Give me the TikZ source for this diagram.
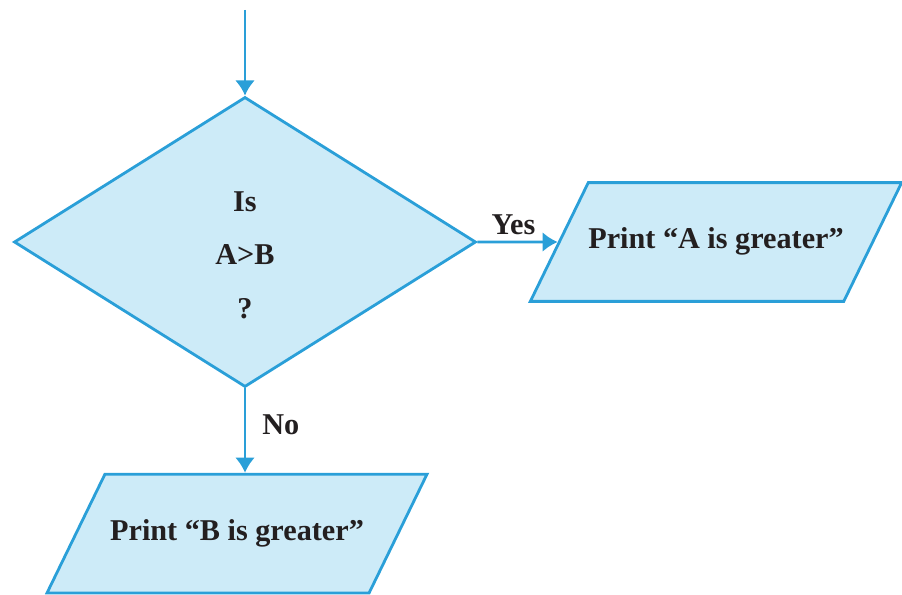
\documentclass[tikz,border=0pt]{standalone}
\usepackage{fontspec}
\setmainfont{Liberation Serif}
\usetikzlibrary{shapes.geometric,arrows.meta}

\definecolor{flowline}{HTML}{2A9FD8}
\definecolor{flowfill}{HTML}{CDEBF8}
\definecolor{flowtext}{HTML}{231F20}

\begin{document}
\begin{tikzpicture}[
          decision/.style = {draw=flowline, fill=flowfill, line width=2pt, diamond, aspect=1.6,
                             minimum width=11.55cm, minimum height=7.25cm, inner sep=0pt},
          io/.style = {draw=flowline, fill=flowfill, line width=2pt, trapezium,
                       trapezium left angle=64, trapezium right angle=116, trapezium stretches body,
                       text height=0.5cm, text depth=0.17cm, inner ysep=1.15cm, inner xsep=0pt},
          flow/.style = {draw=flowline, line width=2pt, -{Latex[length=0.38cm,width=0.5cm]}},
          every node/.style = {font=\fontsize{21.5}{25}\selectfont\bfseries, text=flowtext}
        ]
        \useasboundingbox (0,0) rectangle (22.55,-14.875);

        \coordinate (start) at (6.125,-0.25);
        \node[decision] (cond) at (6.125,-6.05) {};
        \node[align=center] (condtext) at ([yshift=-0.33cm]cond.center) {Is\\[0.45cm] A>B\\[0.45cm] ?};
        \node[io, minimum width=9.2cm] (printA) at (17.9,-6.05) {Print “A is greater”};
        \node[io, minimum width=9.5cm] (printB) at (5.925,-13.34) {Print “B is greater”};

        \draw[flow] (start) -- (cond.north);
        \draw[flow] (cond.east) -- (printA.west) node[pos=0.45, above=1pt] {Yes};
        \draw[flow] (cond.south) -- (cond.south |- printB.north) node[pos=0.43, right=8pt] {No};
      \end{tikzpicture}
\end{document}
